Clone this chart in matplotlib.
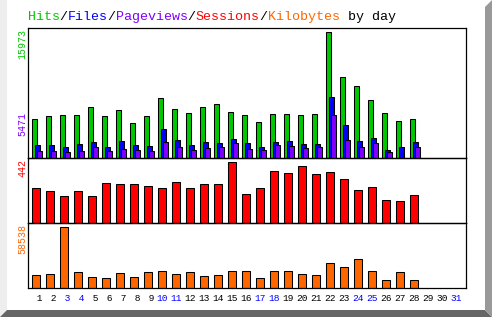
import matplotlib
matplotlib.use('Agg')
import matplotlib.pyplot as plt
from matplotlib.patches import Polygon
import numpy as np

# Daily usage statistics (Webalizer style)
DAYS = list(range(1, 32))
HITS = [4944, 5324, 5451, 5451, 6465, 5324, 6085, 4437, 5324, 7606,
        6212, 5705, 6465, 6846, 5831, 5451, 4564, 5578, 5578, 5451,
        5578, 15973, 10268, 9127, 7353, 5705, 4690, 4944]
FILES = [1648, 1648, 1394, 1775, 2028, 1394, 2155, 1648, 1521, 3676,
         2282, 1648, 2028, 1902, 2409, 1902, 1394, 2028, 2155, 1775,
         1775, 7733, 4183, 2155, 2535, 1014, 1394, 2028]
PAGEVIEWS = [887, 887, 761, 887, 1394, 887, 1141, 1014, 887, 2028,
             1394, 1014, 1268, 1394, 1902, 1141, 1014, 1648, 1521, 1268,
             1394, 5471, 2282, 1394, 1902, 761, 0, 1394]
SESSIONS = [252, 231, 195, 231, 195, 288, 281, 281, 267, 252,
            295, 252, 281, 281, 442, 209, 252, 375, 360, 411,
            353, 368, 317, 238, 259, 166, 159, 202]
KBYTES = [12407, 13362, 58538, 15271, 10499, 9544, 14316, 10499, 15271, 16225,
          13362, 15271, 11453, 12407, 16225, 16225, 9544, 16225, 16225, 13362,
          12407, 23861, 20043, 27679, 16225, 7635, 15271, 7635]
WEEKENDS = [3, 4, 10, 11, 17, 18, 24, 25, 31]

GREEN = "#00c800"
BLUE = "#0000ff"
PURPLE = "#8000ff"
RED = "#ff0000"
ORANGE = "#ff6600"

MONO = "Liberation Mono"
W, H = 492, 317
DPI = 100

fig = plt.figure(figsize=(W / DPI, H / DPI), dpi=DPI)
fig.patch.set_facecolor("white")


def fx(px):
    return px / W


def fy(py):
    # pixel y measured from the top
    return 1 - py / H


# bevel frame
fig.patches.append(Polygon([(fx(0), fy(0)), (fx(7), fy(0)), (fx(7), fy(310)), (fx(0), fy(317))],
                           closed=True, transform=fig.transFigure, facecolor="#eeeeee", edgecolor="none"))
fig.patches.append(Polygon([(fx(0), fy(317)), (fx(7), fy(310)), (fx(485), fy(310)), (fx(492), fy(317))],
                           closed=True, transform=fig.transFigure, facecolor="#666666", edgecolor="none"))
fig.patches.append(Polygon([(fx(485), fy(7)), (fx(492), fy(0)), (fx(492), fy(317)), (fx(485), fy(310))],
                           closed=True, transform=fig.transFigure, facecolor="#999999", edgecolor="none"))

LEFT, RIGHT = 28, 466
SLOT = 14.0
x0 = 1 - 8.3 / SLOT
XLIM = (x0, x0 + (RIGHT - LEFT) / SLOT)


def make_ax(top, bottom):
    ax = fig.add_axes([fx(LEFT), fy(bottom), fx(RIGHT - LEFT), (bottom - top) / H])
    ax.set_xlim(*XLIM)
    ax.set_yticks([])
    ax.set_xticks([])
    for s in ax.spines.values():
        s.set_linewidth(0.9)
        s.set_color("black")
    ax.set_facecolor("none")
    return ax


ax1 = make_ax(28.3, 158.3)
ax2 = make_ax(158.3, 223.3)
ax3 = make_ax(223.3, 288.3)

x = np.arange(1, len(HITS) + 1)
lw = 0.75
bw = 5.0 / SLOT
ax1.bar(x - 2 / SLOT, HITS, bw, color=GREEN, edgecolor="black", linewidth=lw, zorder=2)
ax1.bar(x + 1 / SLOT, FILES, bw, color=BLUE, edgecolor="black", linewidth=lw, zorder=3)
pv = np.array(PAGEVIEWS)
ax1.bar(x[pv > 0] + 3 / SLOT, pv[pv > 0], bw, color=PURPLE, edgecolor="black", linewidth=lw, zorder=4)
ax1.set_ylim(0, max(HITS) * 130 / 126)

ax2.bar(x, SESSIONS, 7.7 / SLOT, color=RED, edgecolor="black", linewidth=lw, zorder=2)
ax2.set_ylim(0, max(SESSIONS) * 195 / 184)

ax3.bar(x, KBYTES, 7.7 / SLOT, color=ORANGE, edgecolor="black", linewidth=lw, zorder=2)
ax3.set_ylim(0, max(KBYTES) * 195 / 184)

# max labels on the left
for ax, val, col in [(ax1, max(HITS), GREEN), (ax1, max(PAGEVIEWS), PURPLE),
                     (ax2, max(SESSIONS), RED), (ax3, max(KBYTES), ORANGE)]:
    ax.annotate(str(val), xy=(0, val), xycoords=("axes fraction", "data"),
                xytext=(-6, 3), textcoords="offset pixels", rotation=90,
                ha="center", va="top", color=col, family=MONO, fontsize=7.2,
                annotation_clip=False)

# day labels
ax3.set_xticks(DAYS)
ax3.set_xticklabels([f"{d:2d}" for d in DAYS], family=MONO, fontsize=6.8)
for lab, d in zip(ax3.get_xticklabels(), DAYS):
    lab.set_color(BLUE if d in WEEKENDS else "black")
ax3.tick_params(axis="x", length=0, pad=4)

# multicoloured title
parts = [("Hits", GREEN), ("/", "black"), ("Files", BLUE), ("/", "black"),
         ("Pageviews", PURPLE), ("/", "black"), ("Sessions", RED), ("/", "black"),
         ("Kilobytes", ORANGE), (" by day", "black")]
title_size = 9.6
charw = title_size * 0.6 * DPI / 72
pos = 27.7
for txt, col in parts:
    fig.text(fx(pos), fy(17), txt, color=col, family=MONO, fontsize=title_size,
             ha="left", va="center")
    pos += len(txt) * charw

fig.savefig("out.png", dpi=DPI)
